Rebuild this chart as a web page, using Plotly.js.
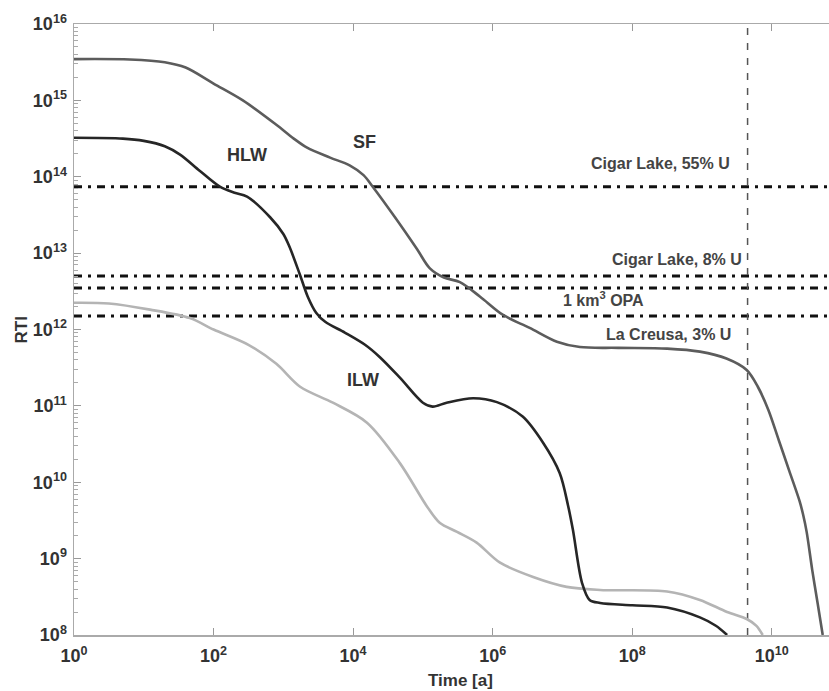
<!DOCTYPE html>
<html>
<head>
<meta charset="utf-8">
<script src="https://cdn.plot.ly/plotly-3.0.1.min.js"></script>
<style>html,body{margin:0;padding:0;background:#fff;}#chart{width:829px;height:691px;}</style>
</head>
<body>
<div id="chart"></div>
<script>
// ---- data (time in years, RTI) ----
const sfTime = [1, 6.31, 20, 39.8, 100, 263, 794, 1410, 2190, 4680, 8910, 1.41e4, 1.91e4, 3.98e4, 8.13e4, 1.26e5, 2.0e5, 3.39e5, 6.61e5, 1.41e6, 3.39e6, 8.32e6, 1.78e7, 6.31e7, 3.16e8, 9.33e8, 2.24e9, 4.37e9, 6.31e9, 8.91e9, 1.26e10, 1.78e10, 2.51e10, 2.82e10, 3.16e10, 3.80e10, 4.57e10, 5.37e10];
const sfRTI  = [3.47e15, 3.43e15, 3.16e15, 2.69e15, 1.66e15, 1.0e15, 4.79e14, 3.16e14, 2.40e14, 1.78e14, 1.41e14, 1.05e14, 7.41e13, 2.95e13, 1.15e13, 6.31e12, 4.79e12, 4.17e12, 2.69e12, 1.55e12, 1.05e12, 6.92e11, 5.89e11, 5.75e11, 5.62e11, 5.13e11, 4.17e11, 2.95e11, 1.78e11, 8.91e10, 3.55e10, 1.41e10, 5.62e9, 3.72e9, 2.24e9, 7.08e8, 2.51e8, 1.0e8];

const hlwTime = [1, 5.01, 10, 20, 33.1, 63.1, 123, 200, 302, 646, 1000, 1230, 1740, 2240, 2950, 3980, 7590, 1.48e4, 2.40e4, 4.68e4, 1.0e5, 1.38e5, 2.19e5, 5.25e5, 1.15e6, 2.69e6, 5.25e6, 9.12e6, 1.20e7, 1.41e7, 1.91e7, 2.45e7, 3.47e7, 1.0e8, 3.16e8, 9.33e8, 1.58e9, 2.29e9];
const hlwRTI  = [3.24e14, 3.16e14, 2.95e14, 2.51e14, 1.95e14, 1.20e14, 7.41e13, 6.17e13, 5.50e13, 2.95e13, 1.78e13, 1.20e13, 5.13e12, 2.69e12, 1.66e12, 1.26e12, 9.12e11, 6.31e11, 4.37e11, 2.34e11, 1.10e11, 9.77e10, 1.10e11, 1.26e11, 1.12e11, 7.24e10, 3.31e10, 1.32e10, 5.01e9, 2.40e9, 4.79e8, 2.88e8, 2.63e8, 2.45e8, 2.29e8, 1.70e8, 1.32e8, 1.0e8];

const ilwTime = [1, 3.16, 12.3, 45.7, 100, 316, 794, 1740, 5130, 1.58e4, 4.68e4, 1.15e5, 1.74e5, 3.09e5, 5.89e5, 1.26e6, 3.80e6, 1.15e7, 3.47e7, 3.16e8, 9.33e8, 2.29e9, 4.37e9, 6.03e9, 7.41e9];
const ilwRTI  = [2.24e12, 2.19e12, 1.82e12, 1.41e12, 1.0e12, 6.31e11, 3.55e11, 1.78e11, 1.10e11, 6.03e10, 1.78e10, 4.79e9, 2.95e9, 2.24e9, 1.62e9, 8.91e8, 5.75e8, 4.27e8, 3.89e8, 3.72e8, 2.88e8, 2.0e8, 1.62e8, 1.32e8, 1.0e8];

// natural analogue reference levels
const refNames  = ['Cigar Lake, 55% U', 'Cigar Lake, 8% U', '1 km<sup>3</sup> OPA', 'La Creusa, 3% U'];
const refLevels = [7.4e13, 5.0e12, 3.5e12, 1.5e12];
const refSpan   = [1, 1e11];

// age of the Earth marker
const earthAge = 4.5e9;
const rtiSpan  = [1e8, 1e16];

// tick labels
const xTickVals = [1, 1e2, 1e4, 1e6, 1e8, 1e10];
const xTickText = ['10<sup>0</sup>', '10<sup>2</sup>', '10<sup>4</sup>', '10<sup>6</sup>', '10<sup>8</sup>', '10<sup>10</sup>'];
const yTickVals = [1e8, 1e9, 1e10, 1e11, 1e12, 1e13, 1e14, 1e15, 1e16];
const yTickText = ['10<sup>8</sup>', '10<sup>9</sup>', '10<sup>10</sup>', '10<sup>11</sup>', '10<sup>12</sup>', '10<sup>13</sup>', '10<sup>14</sup>', '10<sup>15</sup>', '10<sup>16</sup>'];

// curve labels
const curveNames = ['HLW', 'SF', 'ILW'];

// minor tick positions on the log RTI axis (2..9 in each decade)
const yMinor = [];
for (let d = 8; d < 16; d++) for (let k = 2; k <= 9; k++) yMinor.push(k * Math.pow(10, d));

const traces = [];
refLevels.forEach((v, i) => {
  traces.push({x: refSpan, y: [v, v], mode: 'lines', name: refNames[i], hoverinfo: 'skip',
    line: {color: '#111', width: 3, dash: '8px,6px,3px,6px'}});
});
traces.push({x: [earthAge, earthAge], y: rtiSpan, mode: 'lines', name: 'Earth age', hoverinfo: 'skip',
  line: {color: '#555', width: 1.5, dash: '7px,8px'}});
traces.push({x: ilwTime, y: ilwRTI, mode: 'lines', name: 'ILW', line: {color: '#b4b4b4', width: 2.6, shape: 'spline', smoothing: 0.9}});
traces.push({x: sfTime, y: sfRTI, mode: 'lines', name: 'SF', line: {color: '#5c5c5c', width: 2.6, shape: 'spline', smoothing: 0.9}});
traces.push({x: hlwTime, y: hlwRTI, mode: 'lines', name: 'HLW', line: {color: '#262626', width: 2.6, shape: 'spline', smoothing: 0.9}});

const labFont = {family: 'Arial, Liberation Sans, sans-serif', size: 18, color: '#333', weight: 'bold'};
const refFont = {family: 'Arial, Liberation Sans, sans-serif', size: 16, color: '#444', weight: 'bold'};

const annotations = [
  {x: 2.48, y: 14.29, text: curveNames[0], font: labFont},
  {x: 4.17, y: 14.46, text: curveNames[1], font: labFont},
  {x: 4.14, y: 11.34, text: curveNames[2], font: labFont},
  {x: 8.40, y: 14.18, text: refNames[0], font: refFont},
  {x: 8.64, y: 12.92, text: refNames[1], font: refFont},
  {x: 7.59, y: 12.40, text: refNames[2], font: refFont},
  {x: 8.52, y: 11.94, text: refNames[3], font: refFont}
].map(a => Object.assign({xref: 'x', yref: 'y', showarrow: false, xanchor: 'center', yanchor: 'middle'}, a));

annotations.push({xref: 'paper', yref: 'paper', x: -0.069, y: 0.5, text: 'RTI', textangle: -90, showarrow: false,
  xanchor: 'center', yanchor: 'middle', font: {family: 'Arial, Liberation Sans, sans-serif', size: 17, color: '#333', weight: 'bold'}});
annotations.push({xref: 'paper', yref: 'paper', x: 0.512, y: -0.074, text: 'Time [a]', showarrow: false,
  xanchor: 'center', yanchor: 'middle', font: {family: 'Arial, Liberation Sans, sans-serif', size: 17, color: '#333', weight: 'bold'}});

const tickFont = {family: 'Arial, Liberation Sans, sans-serif', size: 18, color: '#333', weight: 'bold'};

const layout = {
  width: 829, height: 691,
  margin: {l: 74, r: 0, t: 24, b: 56},
  paper_bgcolor: '#fff', plot_bgcolor: '#fff',
  showlegend: false,
  xaxis: {type: 'log', range: [0, 10.82], tickmode: 'array', tickvals: xTickVals, ticktext: xTickText,
    ticks: 'inside', ticklen: 7, tickcolor: '#999', tickwidth: 1, showline: true, linecolor: '#aaa', linewidth: 1.5,
    mirror: 'ticks', showgrid: false, zeroline: false, tickfont: tickFont, ticklabelstandoff: 4},
  yaxis: {type: 'log', range: [8, 16], tickmode: 'array', tickvals: yTickVals, ticktext: yTickText,
    ticks: 'inside', ticklen: 7, tickcolor: '#999', tickwidth: 1, showline: true, linecolor: '#aaa', linewidth: 1.5,
    mirror: false, showgrid: false, zeroline: false, tickfont: tickFont, ticklabelstandoff: 2,
    minor: {tickmode: 'array', tickvals: yMinor, ticks: 'inside', ticklen: 4, tickcolor: '#aaa', showgrid: false}},
  annotations: annotations
};

Plotly.newPlot('chart', traces, layout, {displayModeBar: false, staticPlot: true});
</script>
</body>
</html>
